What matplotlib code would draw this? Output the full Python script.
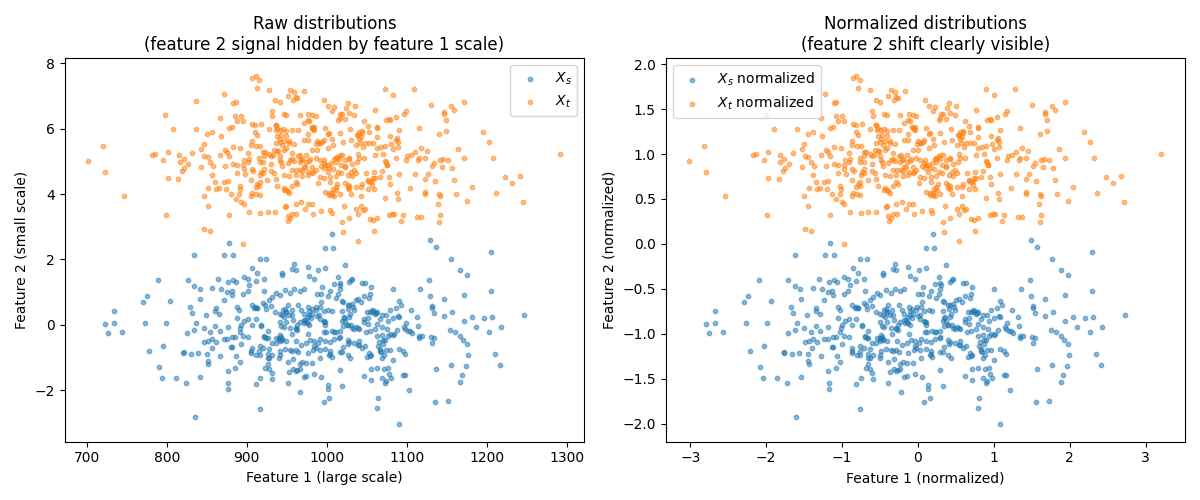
import numpy as np
import matplotlib
matplotlib.use("Agg")
import matplotlib.pyplot as plt

# raw points: (feature 1, feature 2)
source_raw = [
    (834, 2.13), (789, 1.36), (826, 1.36), (834, 1.18), (776, 0.87), (770, 0.69), (804, 0.72), (734, 0.41),
    (829, 0.54), (832, 0.35), (723, 0.02), (734, 0.05), (727, -0.26), (744, -0.23), (773, 0.05), (799, 0.05),
    (825, -0.26), (834, -0.17), (837, 0.05), (796, -0.66), (778, -0.81), (820, -0.87), (821, -0.84), (830, -0.90),
    (839, -0.87), (790, -1.30), (794, -1.64), (812, -1.64), (824, -1.79), (835, -2.84),
    (878, 2.50), (872, 2.13), (883, 2.13), (916, 2.01), (924, 2.01), (959, 1.86), (957, 1.70), (961, 1.67),
    (907, 1.73), (913, 1.58), (944, 1.58), (944, 1.52), (864, 1.40), (896, 1.46), (901, 1.40), (903, 1.21),
    (911, 1.34), (921, 1.40), (877, 1.30), (883, 1.37), (887, 1.30), (857, 1.12), (868, 1.09), (875, 1.00),
    (881, 1.03), (882, 0.91), (895, 0.94), (901, 1.03), (922, 1.03), (928, 0.75), (932, 0.84), (937, 0.97),
    (941, 0.91), (948, 1.06), (954, 0.97), (959, 1.09), (966, 1.03), (971, 1.09), (841, 1.09), (842, 0.78),
    (871, 0.75), (888, 0.54), (890, 0.45), (906, 0.60), (910, 0.54), (913, 0.51), (920, 0.66), (924, 0.48),
    (923, 0.60), (930, 0.57), (948, 0.48), (951, 0.60), (956, 0.45), (964, 0.60), (968, 0.45), (971, 0.32),
    (861, 0.51), (860, 0.41), (865, 0.32), (849, 0.29), (902, 0.17), (897, 0.11), (888, 0.20), (893, -0.02),
    (892, -0.11), (918, -0.02), (918, -0.05), (906, -0.02), (911, 0.17), (935, 0.38), (941, 0.32), (944, 0.29),
    (949, 0.38), (947, 0.23), (953, 0.29), (957, 0.29), (958, 0.14), (949, 0.08), (941, 0.08), (943, -0.05),
    (946, -0.08), (954, -0.11), (961, -0.14), (963, -0.17), (966, 0.08), (971, 0.14), (860, -0.05), (876, -0.08),
    (866, -0.20), (854, -0.23), (846, -0.11), (857, -0.44), (871, -0.44), (875, -0.44), (885, -0.38), (882, -0.38),
    (891, -0.23), (895, -0.35), (902, -0.38), (922, -0.38), (926, -0.41), (926, -0.20), (937, -0.41), (940, -0.44),
    (941, -0.51), (943, -0.38), (944, -0.44), (949, -0.51), (956, -0.29), (962, -0.51), (847, -0.54), (852, -0.51),
    (862, -0.54), (856, -0.72), (880, -0.69), (882, -0.69), (893, -0.60), (905, -0.81), (906, -0.72), (916, -0.66),
    (920, -0.72), (928, -0.75), (931, -0.57), (936, -0.57), (942, -0.81), (948, -0.75), (954, -0.78), (961, -0.78),
    (964, -0.84), (968, -0.63), (850, -0.90), (867, -0.97), (887, -0.97), (905, -0.87), (912, -0.93), (916, -0.93),
    (926, -0.90), (926, -1.03), (932, -0.93), (941, -0.93), (940, -1.03), (951, -1.15), (958, -1.06), (966, -1.21),
    (851, -1.12), (852, -1.21), (891, -1.15), (876, -1.43), (885, -1.33), (923, -1.33), (926, -1.21), (928, -1.36),
    (931, -1.47), (932, -1.67), (917, -1.64), (911, -1.82), (953, -1.46), (958, -1.36), (961, -1.43), (963, -1.39),
    (966, -1.36), (971, -1.61), (842, -1.61), (877, -1.79), (877, -1.98), (951, -1.79), (967, -2.07), (916, -2.59),
    (1007, 2.78), (998, 2.35), (1008, 2.35), (976, 1.76), (989, 1.67), (998, 1.73), (1023, 1.83), (978, 1.49),
    (984, 1.40), (1014, 1.46), (1016, 1.27), (1028, 1.30), (1030, 1.37), (1032, 1.40), (1044, 1.27), (1048, 1.27),
    (1055, 1.15), (1054, 0.94), (1053, 0.81), (1083, 1.09), (994, 1.15), (988, 0.94), (993, 0.94), (1004, 1.03),
    (1002, 0.87), (1009, 1.24), (1016, 1.09), (1017, 1.21), (1014, 0.94), (1011, 0.81), (1020, 0.69), (1019, 0.72),
    (1026, 0.60), (1032, 0.63), (1033, 0.54), (1039, 0.78), (1043, 0.69), (1047, 0.87), (993, 0.69), (992, 0.54),
    (987, 0.54), (1002, 0.45), (1006, 0.41), (996, 0.41), (978, 0.41), (981, 0.48), (982, 0.32), (977, 0.54),
    (976, 0.23), (973, 0.14), (974, 0.08), (972, 0.05), (978, -0.02), (988, 0.26), (991, 0.17), (997, 0.08),
    (998, 0.08), (1019, 0.41), (1027, 0.48), (1029, 0.32), (1028, 0.23), (1022, 0.23), (1019, 0.11), (1020, -0.05),
    (1026, -0.02), (1030, -0.02), (1032, -0.11), (1034, -0.14), (1037, -0.08), (1039, -0.11), (1040, -0.14), (1047, 0.17),
    (1047, 0.08), (1050, 0.38), (1054, 0.38), (1057, 0.45), (1059, 0.41), (1063, 0.38), (1060, 0.32), (1069, 0.29),
    (1067, 0.17), (1074, 0.29), (1079, 0.45), (1087, 0.51), (1090, 0.72), (1093, 0.60), (1090, 0.23), (1089, 0.26),
    (1083, 0.20), (1077, 0.11), (1063, 0.02), (1052, 0.02), (1054, -0.20), (1049, -0.23), (1060, -0.14), (1069, -0.08),
    (1075, -0.14), (1079, -0.29), (1083, -0.32), (1088, -0.17), (1084, -0.29), (997, -0.23), (999, -0.23), (1006, -0.20),
    (1009, -0.23), (1016, -0.20), (1016, -0.38), (1009, -0.44), (1004, -0.54), (998, -0.51), (992, -0.44), (989, -0.57),
    (984, -0.51), (984, -0.66), (977, -0.29), (979, -0.48), (974, -0.57), (976, -0.87), (983, -0.78), (986, -0.72),
    (991, -0.78), (998, -0.75), (1004, -0.81), (1004, -0.90), (1006, -1.00), (992, -1.03), (1016, -0.84), (1019, -0.84),
    (1020, -0.69), (1026, -0.48), (1026, -0.93), (1027, -0.60), (1029, -1.03), (1034, -0.57), (1039, -0.63), (1040, -0.51),
    (1044, -0.72), (1048, -0.66), (1050, -1.00), (1054, -0.97), (1053, -0.87), (1055, -0.93), (1063, -0.35), (1065, -0.54),
    (1064, -0.66), (1070, -0.60), (1070, -0.48), (1067, -0.75), (1068, -0.84), (1069, -1.03), (1074, -0.78), (1077, -0.35),
    (1079, -0.78), (1083, -1.09), (1090, -0.75), (1095, -0.81), (974, -1.18), (982, -1.18), (974, -1.58), (984, -1.52),
    (993, -1.61), (1016, -1.40), (1055, -1.36), (1063, -1.33), (1047, -1.58), (1055, -1.70), (1072, -1.36), (1077, -1.33),
    (1078, -1.52), (1069, -1.64), (1080, -1.64), (1073, -1.79), (1074, -1.73), (1095, -1.55), (1001, -1.85), (1001, -1.98),
    (1003, -2.25), (996, -2.38), (1019, -1.89), (1064, -2.25), (1063, -2.56), (1090, -3.05),
    (1129, 2.59), (1136, 2.38), (1155, 2.01), (1166, 1.67), (1175, 1.52), (1205, 2.22), (1128, 1.37), (1116, 1.09),
    (1129, 0.87), (1147, 0.78), (1171, 0.91), (1205, 1.03), (1131, 0.57), (1131, 0.51), (1134, 0.35), (1105, 0.45),
    (1113, 0.23), (1157, 0.38), (1146, 0.26), (1172, 0.11), (1182, 0.23), (1196, 0.20), (1206, 0.23), (1186, -0.08),
    (1203, -0.23), (1218, -0.08), (1099, 0.05), (1096, -0.08), (1098, -0.14), (1101, -0.20), (1104, -0.20), (1106, -0.26),
    (1114, -0.05), (1115, -0.35), (1115, -0.41), (1119, -0.35), (1130, -0.38), (1134, -0.41), (1131, -0.57), (1154, -0.17),
    (1160, -0.23), (1167, -0.35), (1170, -0.48), (1175, -0.60), (1176, -0.93), (1210, -0.90), (1217, -1.24), (1098, -0.90),
    (1155, -1.24), (1174, -1.27), (1136, -1.36), (1169, -1.55), (1167, -1.76), (1098, -1.55), (1103, -2.01), (1135, -2.38),
    (1152, -2.35), (1247, 0.29),
    # overlapping dots in the dense centre
    (940, -0.41), (944, -0.46), (942, -0.31), (922, -0.36), (924, -0.41), (978, 0.30), (980, 0.20), (976, 0.05),
    (996, 0.10), (998, -0.01), (1021, 0.20), (1023, 0.10), (1025, -0.01), (1057, 0.40), (1061, 0.35), (1052, 0.20),
    (1028, 0.61), (1034, 0.45), (1036, 0.76), (909, 0.51), (913, 0.51), (945, 0.45), (949, 0.40), (961, -0.11),
    (963, -0.01), (986, 0.45), (990, 0.30), (1011, -0.21), (1015, -0.41), (1028, -0.52), (1040, -0.62), (1069, -0.31),
    (1073, -0.46), (1067, -0.82), (1071, -0.93), (915, -0.82), (928, -1.03), (957, -0.82), (969, -1.13), (1003, -0.93),
]

target_raw = [
    (837, 6.86), (798, 6.43), (808, 6.00), (837, 6.00), (720, 5.48), (702, 5.02), (723, 4.68), (782, 5.20),
    (786, 5.23), (801, 5.29), (796, 5.05), (815, 5.20), (821, 5.08), (816, 4.97), (827, 4.92), (822, 4.80),
    (819, 4.71), (832, 5.26), (801, 4.49), (814, 4.46), (747, 3.94), (799, 3.36),
    (907, 7.57), (911, 7.63), (915, 7.50), (913, 7.25), (928, 7.19), (872, 7.07), (883, 6.79), (886, 6.82),
    (935, 6.89), (941, 6.82), (954, 7.19), (951, 7.01), (959, 7.13), (961, 6.98), (963, 6.95), (958, 6.89),
    (931, 6.55), (932, 6.39), (946, 6.46), (949, 6.43), (966, 6.43), (867, 6.33), (885, 6.39), (893, 6.39),
    (888, 6.24), (895, 6.24), (878, 6.03), (882, 6.06), (907, 6.15), (918, 6.15), (910, 6.12), (936, 6.12),
    (937, 5.97), (928, 6.00), (942, 5.97), (949, 5.94), (964, 5.97), (971, 6.18), (957, 5.97), (857, 5.90),
    (850, 5.84), (868, 5.78), (910, 5.90), (913, 5.81), (938, 5.78), (943, 5.81), (949, 5.78), (942, 5.69),
    (936, 5.57), (941, 5.60), (947, 5.63), (953, 5.63), (944, 5.51), (959, 5.54), (971, 5.66), (906, 5.63),
    (905, 5.51), (912, 5.48), (917, 5.48), (846, 5.54), (843, 5.38), (873, 5.35), (875, 5.29), (883, 5.44),
    (892, 5.41), (902, 5.26), (920, 5.29), (923, 5.29), (928, 5.23), (933, 5.20), (939, 5.32), (949, 5.41),
    (947, 5.35), (957, 5.26), (964, 5.17), (967, 5.20), (847, 5.17), (851, 5.14), (867, 5.20), (878, 5.17),
    (915, 5.11), (921, 5.17), (930, 5.17), (941, 5.17), (942, 5.04), (854, 4.98), (858, 4.86), (873, 4.86),
    (883, 4.92), (888, 4.89), (895, 4.89), (897, 5.05), (903, 5.08), (902, 4.98), (916, 4.98), (920, 4.98),
    (930, 4.92), (943, 4.98), (944, 4.86), (951, 4.95), (954, 5.04), (966, 4.98), (968, 5.04), (843, 4.83),
    (896, 4.77), (906, 4.77), (908, 4.71), (918, 4.68), (921, 4.77), (930, 4.71), (962, 4.74), (967, 4.74),
    (971, 4.83), (957, 4.74), (857, 4.59), (888, 4.65), (898, 4.62), (917, 4.59), (920, 4.65), (934, 4.65),
    (936, 4.46), (947, 4.59), (953, 4.56), (961, 4.59), (969, 4.56), (860, 4.37), (871, 4.37), (876, 4.40),
    (905, 4.43), (916, 4.37), (913, 4.31), (925, 4.43), (961, 4.37), (963, 4.31), (957, 4.25), (852, 4.19),
    (862, 4.16), (865, 4.19), (874, 4.16), (891, 4.25), (892, 4.16), (911, 4.22), (915, 4.25), (938, 4.25),
    (946, 4.13), (951, 4.10), (953, 4.03), (907, 4.03), (912, 4.00), (905, 3.94), (916, 3.97), (880, 4.00),
    (890, 4.00), (846, 3.94), (886, 3.85), (893, 3.76), (896, 3.70), (851, 3.64), (903, 3.45), (917, 3.42),
    (926, 3.45), (935, 3.45), (948, 3.60), (949, 3.64), (961, 3.70), (968, 3.76), (951, 3.33), (957, 3.39),
    (962, 3.39), (954, 3.27), (952, 3.18), (878, 3.36), (847, 2.93), (854, 2.87), (895, 2.47),
    (972, 7.16), (997, 6.89), (1002, 6.70), (1009, 6.67), (1007, 6.55), (1027, 6.79), (1024, 6.64), (1035, 6.70),
    (1017, 6.46), (1019, 6.46), (1014, 6.27), (1016, 6.33), (1023, 6.30), (1028, 6.49), (1034, 6.43), (1060, 6.58),
    (1047, 6.24), (1073, 7.22), (1083, 7.04), (977, 6.46), (982, 6.43), (986, 6.40), (976, 6.27), (978, 6.24),
    (981, 6.06), (983, 6.00), (984, 6.06), (976, 5.84), (998, 6.03), (1003, 5.87), (1002, 5.84), (1016, 5.87),
    (1029, 6.00), (1040, 5.90), (1044, 5.94), (1053, 5.90), (1063, 6.06), (1074, 6.27), (1078, 6.30), (1087, 6.36),
    (1090, 5.97), (1079, 5.78), (1088, 5.72), (976, 5.66), (987, 5.54), (992, 5.57), (994, 5.60), (996, 5.66),
    (1007, 5.69), (1002, 5.41), (1008, 5.51), (1020, 5.60), (1030, 5.66), (1039, 5.81), (1040, 5.69), (1043, 5.75),
    (1037, 5.51), (1042, 5.57), (1045, 5.44), (1048, 5.57), (1053, 5.57), (1058, 5.57), (1063, 5.75), (1068, 5.44),
    (1073, 5.48), (1080, 5.54), (1089, 5.60), (1089, 5.44), (1083, 5.38), (982, 5.35), (988, 5.35), (974, 5.20),
    (979, 5.08), (986, 5.11), (991, 5.04), (997, 5.05), (1009, 5.08), (1013, 5.14), (1016, 5.20), (1019, 5.20),
    (1011, 4.98), (1023, 5.04), (1028, 5.11), (1039, 5.23), (1040, 5.11), (1038, 4.98), (1032, 4.92), (1047, 5.11),
    (1060, 5.20), (1063, 5.41), (1070, 5.23), (1074, 4.98), (1075, 4.89), (1087, 5.11), (974, 4.98), (973, 4.83),
    (982, 4.83), (986, 4.74), (993, 4.86), (998, 4.89), (997, 4.80), (1003, 4.80), (1018, 4.89), (1023, 4.83),
    (1008, 4.77), (977, 4.68), (983, 4.68), (1001, 4.68), (1014, 4.68), (1018, 4.65), (1027, 4.59), (1030, 4.68),
    (1037, 4.65), (1049, 4.65), (1059, 4.68), (1069, 4.71), (1090, 4.62), (991, 4.53), (996, 4.49), (1004, 4.53),
    (1011, 4.56), (1032, 4.56), (1058, 4.49), (1052, 4.40), (1054, 4.37), (1060, 4.49), (1067, 4.53), (1078, 4.53),
    (989, 4.34), (1004, 4.37), (1013, 4.31), (1023, 4.34), (1026, 4.28), (1044, 4.31), (1057, 4.28), (1011, 4.22),
    (1008, 4.16), (1012, 4.13), (1026, 4.19), (1028, 4.16), (1037, 4.22), (1043, 4.22), (1052, 4.16), (1059, 4.16),
    (1079, 4.31), (998, 4.06), (1003, 3.97), (1007, 4.03), (1009, 3.94), (1016, 4.00), (1030, 4.00), (1043, 3.94),
    (1088, 4.03), (1089, 3.85), (1073, 3.88), (977, 3.70), (982, 3.70), (1022, 3.64), (1043, 3.64), (1048, 3.54),
    (1037, 3.54), (1045, 3.51), (973, 3.54), (983, 3.39), (993, 3.48), (1004, 3.51), (1006, 3.42), (1039, 3.39),
    (1054, 3.24), (1058, 3.21), (1063, 3.27), (1078, 3.36), (1082, 3.39), (1084, 3.39), (1095, 3.36), (1093, 3.18),
    (1019, 3.15), (1028, 3.27), (1059, 2.87), (1020, 2.84), (1039, 2.56),
    (1109, 7.22), (1130, 6.73), (1155, 6.70), (1159, 6.58), (1172, 6.82), (1099, 6.55), (1096, 6.46), (1146, 6.46),
    (1147, 6.52), (1149, 6.27), (1115, 6.03), (1140, 5.84), (1149, 5.94), (1195, 5.90), (1203, 5.60), (1118, 5.41),
    (1125, 5.32), (1110, 5.29), (1105, 5.20), (1100, 5.17), (1099, 5.05), (1115, 5.11), (1114, 5.04), (1123, 5.11),
    (1134, 4.95), (1131, 4.86), (1141, 5.05), (1145, 5.08), (1152, 5.05), (1144, 4.83), (1164, 5.38), (1171, 5.11),
    (1208, 5.11), (1157, 4.80), (1110, 4.62), (1126, 4.62), (1123, 4.46), (1135, 4.40), (1159, 4.43), (1104, 4.19),
    (1182, 4.22), (1123, 4.06), (1123, 4.00), (1140, 4.00), (1142, 3.94), (1161, 4.00), (1211, 4.03), (1175, 3.79),
    (1139, 3.70), (1113, 3.30), (1118, 3.30), (1141, 3.36), (1140, 3.15),
    (1292, 5.23), (1223, 4.53), (1231, 4.34), (1242, 4.56), (1245, 3.76),
    # overlapping dots in the dense centre
    (982, 6.03), (984, 5.96), (957, 5.06), (959, 5.00), (1011, 5.11), (1015, 5.06), (1028, 5.06), (1038, 5.82),
    (1044, 5.87), (1073, 5.00), (1075, 4.90), (936, 6.13), (938, 6.03), (945, 5.98), (934, 5.36), (938, 5.31),
    (953, 5.57), (969, 5.06), (978, 5.00), (996, 4.95), (1001, 4.90), (1005, 4.95), (1023, 4.85), (1052, 4.44),
    (1057, 4.39), (1003, 4.03), (1007, 3.98), (1028, 4.24), (949, 4.14), (947, 4.19), (988, 5.62), (990, 5.57),
    (1052, 6.08), (1063, 6.03), (1079, 6.28), (1086, 5.67), (969, 4.70), (976, 4.60), (982, 4.65), (1034, 4.75),
]

panel_titles = ["Raw distributions\n(feature 2 signal hidden by feature 1 scale)",
                "Normalized distributions\n(feature 2 shift clearly visible)"]
x_labels = ["Feature 1 (large scale)", "Feature 1 (normalized)"]
y_labels = ["Feature 2 (small scale)", "Feature 2 (normalized)"]
legend_labels = [("$X_s$", "$X_t$"), ("$X_s$ normalized", "$X_t$ normalized")]

Xs = np.array(source_raw, dtype=float)
Xt = np.array(target_raw, dtype=float)

# standardise with the statistics of both sets together
both = np.vstack([Xs, Xt])
mu, sd = both.mean(axis=0), both.std(axis=0)
Xs_n = (Xs - mu) / sd
Xt_n = (Xt - mu) / sd

fig, axes = plt.subplots(1, 2, figsize=(12, 5), dpi=100)

for ax, (a, b), title, xl, yl, (la, lb), loc in zip(
        axes, [(Xs, Xt), (Xs_n, Xt_n)], panel_titles, x_labels, y_labels,
        legend_labels, ["upper right", "upper left"]):
    ax.scatter(a[:, 0], a[:, 1], s=10, alpha=0.5, label=la)
    ax.scatter(b[:, 0], b[:, 1], s=10, alpha=0.5, label=lb)
    ax.set_title(title)
    ax.set_xlabel(xl)
    ax.set_ylabel(yl)
    ax.legend(loc=loc)

plt.tight_layout()
plt.savefig("out.png")
